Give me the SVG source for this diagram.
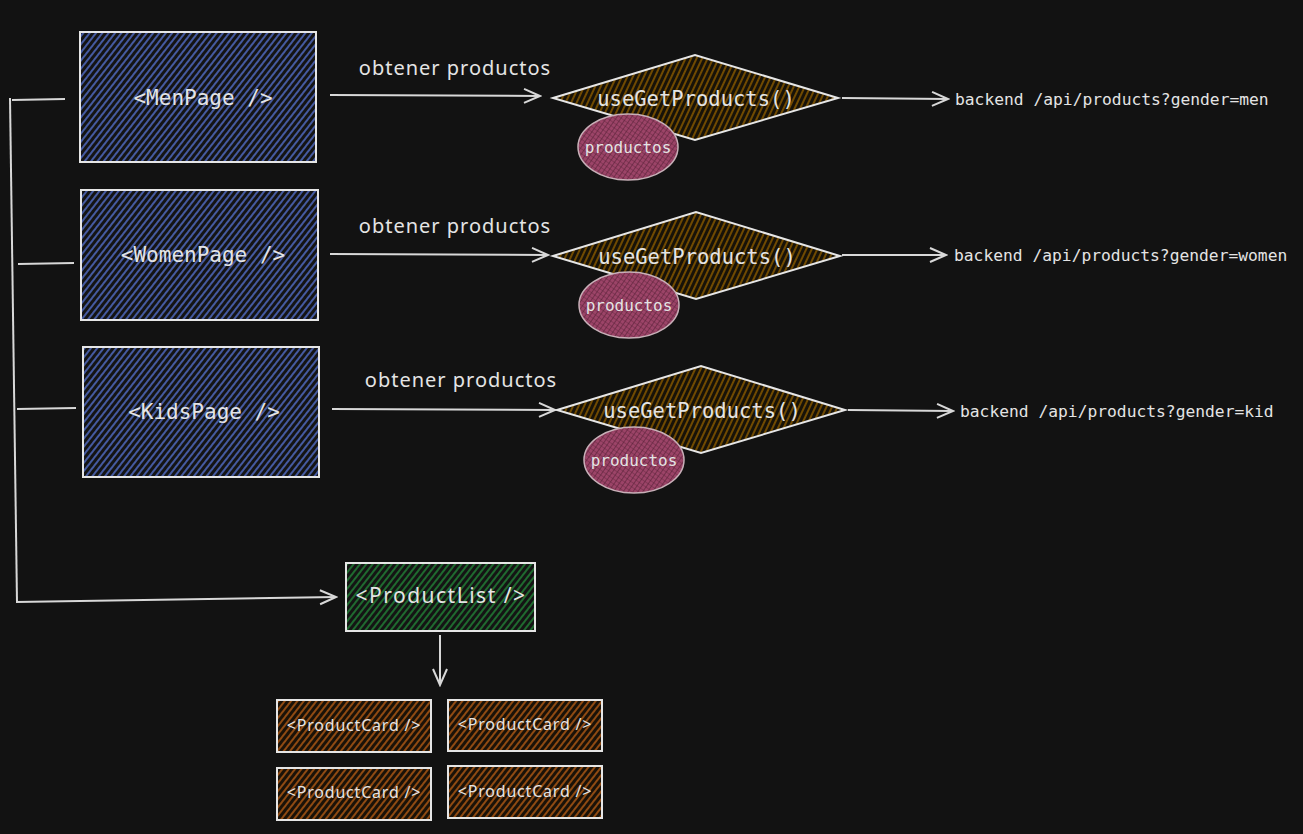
<svg xmlns="http://www.w3.org/2000/svg" width="1303" height="834" viewBox="0 0 1303 834">
<defs>
<style>
.box{stroke:#e6e6e6;stroke-width:2;}
.conn{stroke:#d8d8d8;stroke-width:2;fill:none;}
.code{font-family:"DejaVu Sans Mono","Liberation Mono",monospace;fill:#e4e4e4;}
.hand{font-family:"Noto Sans","Liberation Sans",sans-serif;fill:#e4e4e4;}
</style>
<pattern id="hBlue" width="5" height="5" patternUnits="userSpaceOnUse" patternTransform="rotate(38)">
<rect width="5" height="5" fill="#141414"/><line x1="1" y1="0" x2="1" y2="5" stroke="#4a62b0" stroke-width="1.8"/>
</pattern>
<pattern id="hOrange" width="5" height="5" patternUnits="userSpaceOnUse" patternTransform="rotate(25)">
<rect width="5" height="5" fill="#171208"/><line x1="1" y1="0" x2="1" y2="5" stroke="#7a5000" stroke-width="1.8"/>
</pattern>
<pattern id="hGreen" width="5" height="5" patternUnits="userSpaceOnUse" patternTransform="rotate(38)">
<rect width="5" height="5" fill="#141414"/><line x1="1" y1="0" x2="1" y2="5" stroke="#1f6a2f" stroke-width="2"/>
</pattern>
<pattern id="hBrown" width="5" height="5" patternUnits="userSpaceOnUse" patternTransform="rotate(38)">
<rect width="5" height="5" fill="#1a1208"/><line x1="1" y1="0" x2="1" y2="5" stroke="#8f4a12" stroke-width="2"/>
</pattern>
<pattern id="hPink" width="4" height="4" patternUnits="userSpaceOnUse" patternTransform="rotate(35)">
<rect width="4" height="4" fill="#9c4468"/><line x1="0" y1="0" x2="0" y2="4" stroke="#4a1a2e" stroke-width="1"/><line x1="0" y1="0" x2="4" y2="0" stroke="#5a2238" stroke-width="0.8"/>
</pattern>
<marker id="arr" viewBox="0 0 20 20" refX="18" refY="10" markerWidth="20" markerHeight="20" markerUnits="userSpaceOnUse" orient="auto">
<path d="M2,3 L18,10 L2,17" fill="none" stroke="#d8d8d8" stroke-width="2"/>
</marker>
</defs>
<rect width="1303" height="834" fill="#121212"/>

<g id="connectors">
<line class="conn" x1="330" y1="95" x2="540" y2="96" marker-end="url(#arr)"/>
<line class="conn" x1="330" y1="254" x2="548" y2="255" marker-end="url(#arr)"/>
<line class="conn" x1="332" y1="409" x2="555" y2="410" marker-end="url(#arr)"/>
<line class="conn" x1="842" y1="98" x2="948" y2="99" marker-end="url(#arr)"/>
<line class="conn" x1="842" y1="255" x2="946" y2="255" marker-end="url(#arr)"/>
<line class="conn" x1="848" y1="410" x2="953" y2="411" marker-end="url(#arr)"/>
<polyline class="conn" points="10,98 17,602"/>
<line class="conn" x1="12" y1="100" x2="65" y2="99"/>
<line class="conn" x1="18" y1="264" x2="74" y2="263"/>
<line class="conn" x1="17" y1="409" x2="76" y2="408"/>
<line class="conn" x1="16" y1="602" x2="336" y2="597" marker-end="url(#arr)"/>
<line class="conn" x1="440" y1="635" x2="440" y2="685" marker-end="url(#arr)"/>
<text class="hand" x="455" y="75" font-size="20" letter-spacing="1" text-anchor="middle">obtener productos</text>
<text class="hand" x="455" y="233" font-size="20" letter-spacing="1" text-anchor="middle">obtener productos</text>
<text class="hand" x="461" y="387" font-size="20" letter-spacing="1" text-anchor="middle">obtener productos</text>
</g>

<g id="men-page">
<rect class="box" x="80" y="32" width="236" height="130" fill="url(#hBlue)"/>
<text class="code" x="203" y="105" font-size="21" text-anchor="middle">&lt;MenPage /&gt;</text>
</g>
<g id="women-page">
<rect class="box" x="81" y="190" width="237" height="130" fill="url(#hBlue)"/>
<text class="code" x="203" y="262" font-size="21" text-anchor="middle">&lt;WomenPage /&gt;</text>
</g>
<g id="kids-page">
<rect class="box" x="83" y="347" width="236" height="130" fill="url(#hBlue)"/>
<text class="code" x="204" y="419" font-size="21" text-anchor="middle">&lt;KidsPage /&gt;</text>
</g>

<g id="hook-men">
<polygon class="box" points="553,98 695,55 838,98 695,140" fill="url(#hOrange)"/>
<ellipse cx="628" cy="147" rx="50" ry="33" fill="url(#hPink)" stroke="#c8b0b8" stroke-width="1.5"/>
<text class="code" x="696" y="106" font-size="20.5" text-anchor="middle">useGetProducts()</text>
<text class="code" x="628" y="153" font-size="16" text-anchor="middle">productos</text>
</g>
<g id="hook-women">
<polygon class="box" points="553,256 696,212 840,256 696,299" fill="url(#hOrange)"/>
<ellipse cx="629" cy="305" rx="50" ry="33" fill="url(#hPink)" stroke="#c8b0b8" stroke-width="1.5"/>
<text class="code" x="697" y="264" font-size="20.5" text-anchor="middle">useGetProducts()</text>
<text class="code" x="629" y="311" font-size="16" text-anchor="middle">productos</text>
</g>
<g id="hook-kids">
<polygon class="box" points="557,410 701,366 845,410 701,453" fill="url(#hOrange)"/>
<ellipse cx="634" cy="460" rx="50" ry="33" fill="url(#hPink)" stroke="#c8b0b8" stroke-width="1.5"/>
<text class="code" x="702" y="418" font-size="20.5" text-anchor="middle">useGetProducts()</text>
<text class="code" x="634" y="466" font-size="16" text-anchor="middle">productos</text>
</g>

<g id="backend-men"><text class="code" x="955" y="105" font-size="16.3">backend /api/products?gender=men</text></g>
<g id="backend-women"><text class="code" x="954" y="261" font-size="16.3">backend /api/products?gender=women</text></g>
<g id="backend-kids"><text class="code" x="960" y="417" font-size="16.3">backend /api/products?gender=kid</text></g>

<g id="product-list">
<rect class="box" x="346" y="563" width="189" height="68" fill="url(#hGreen)"/>
<text class="hand" x="441" y="603" font-size="21" letter-spacing="1.5" text-anchor="middle">&lt;ProductList /&gt;</text>
</g>
<g id="card-1">
<rect class="box" x="277" y="700" width="154" height="52" fill="url(#hBrown)"/>
<text class="hand" x="354" y="731" font-size="16" letter-spacing="0.8" text-anchor="middle">&lt;ProductCard /&gt;</text>
</g>
<g id="card-2">
<rect class="box" x="448" y="700" width="154" height="51" fill="url(#hBrown)"/>
<text class="hand" x="525" y="730" font-size="16" letter-spacing="0.8" text-anchor="middle">&lt;ProductCard /&gt;</text>
</g>
<g id="card-3">
<rect class="box" x="277" y="768" width="154" height="52" fill="url(#hBrown)"/>
<text class="hand" x="354" y="798" font-size="16" letter-spacing="0.8" text-anchor="middle">&lt;ProductCard /&gt;</text>
</g>
<g id="card-4">
<rect class="box" x="448" y="766" width="154" height="52" fill="url(#hBrown)"/>
<text class="hand" x="525" y="797" font-size="16" letter-spacing="0.8" text-anchor="middle">&lt;ProductCard /&gt;</text>
</g>
</svg>
